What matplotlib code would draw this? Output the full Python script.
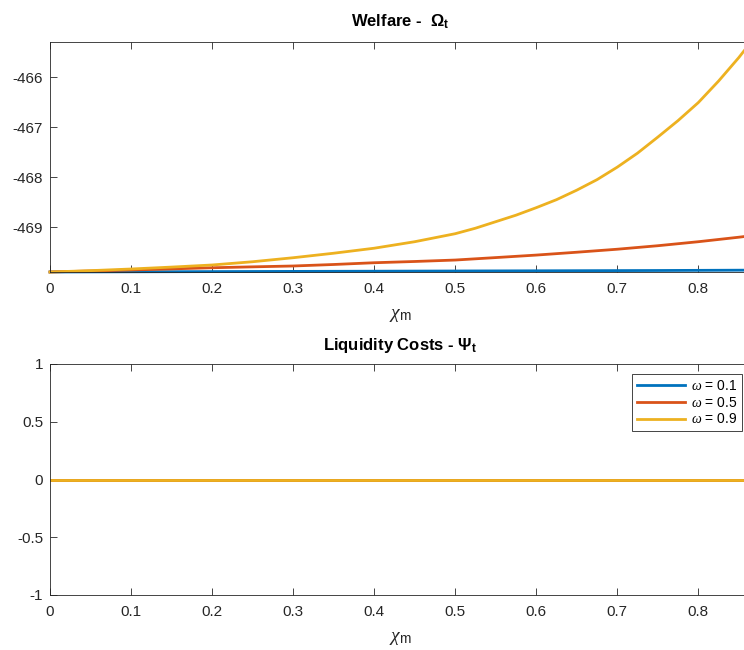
import matplotlib
matplotlib.use('Agg')
import matplotlib.pyplot as plt

plt.rcParams['font.family'] = ['Liberation Sans', 'DejaVu Sans']
plt.rcParams['mathtext.fontset'] = 'custom'
plt.rcParams['mathtext.rm'] = 'Liberation Sans'
plt.rcParams['mathtext.it'] = 'Liberation Serif:italic'
plt.rcParams['mathtext.bf'] = 'Liberation Sans:bold'
plt.rcParams['axes.unicode_minus'] = False

# chi_m grid
chi_m = [0.0, 0.05, 0.1, 0.15, 0.2, 0.25, 0.3, 0.35, 0.4, 0.45,
         0.5, 0.55, 0.6, 0.65, 0.7, 0.75, 0.8, 0.85, 0.865]
# finer reading for the steep omega = 0.9 curve
chi_m_fine = [0.0, 0.05, 0.1, 0.15, 0.2, 0.25, 0.3, 0.35, 0.4, 0.45, 0.475,
              0.5, 0.525, 0.55, 0.575, 0.6, 0.625, 0.65, 0.675, 0.7, 0.725,
              0.75, 0.775, 0.8, 0.825, 0.85, 0.865]

welfare_w01 = [-469.895, -469.893, -469.891, -469.889, -469.887, -469.885, -469.883, -469.881,
               -469.879, -469.877, -469.875, -469.873, -469.871, -469.869, -469.867, -469.865,
               -469.862, -469.859, -469.858]
welfare_w05 = [-469.895, -469.875, -469.855, -469.833, -469.81, -469.792, -469.775, -469.745,
               -469.71, -469.685, -469.656, -469.607, -469.557, -469.50, -469.44, -469.37,
               -469.29, -469.20, -469.17]
welfare_w09 = [-469.895, -469.868, -469.835, -469.797, -469.755, -469.69, -469.61, -469.52,
               -469.42, -469.29, -469.21, -469.13, -469.02, -468.89, -468.76, -468.61,
               -468.45, -468.26, -468.05, -467.80, -467.52, -467.20, -466.87, -466.51,
               -466.08, -465.61, -465.30]

liq_w01 = [0.0] * len(chi_m)
liq_w05 = [0.0] * len(chi_m)
liq_w09 = [0.0] * len(chi_m)

omegas = ['0.1', '0.5', '0.9']
colors = ['#0072BD', '#D95319', '#EDB120']

xticks = [0, 0.1, 0.2, 0.3, 0.4, 0.5, 0.6, 0.7, 0.8]
xtick_labels = ['0', '0.1', '0.2', '0.3', '0.4', '0.5', '0.6', '0.7', '0.8']
top_yticks = [-469, -468, -467, -466]
top_ylabels = ['-469', '-468', '-467', '-466']
bot_yticks = [-1, -0.5, 0, 0.5, 1]
bot_ylabels = ['-1', '-0.5', '0', '0.5', '1']

W, H = 744, 650
fig = plt.figure(figsize=(W / 100, H / 100), dpi=100)
ax1 = fig.add_axes([50 / W, 1 - 272 / H, 701 / W, 230 / H])
ax2 = fig.add_axes([50 / W, 1 - 595 / H, 701 / W, 231 / H])

edge = '#262626'


def style(ax):
    for s in ax.spines.values():
        s.set_color(edge)
        s.set_linewidth(0.6)
    ax.tick_params(direction='in', top=True, right=True, length=5, width=0.6,
                   color=edge, labelcolor=edge, labelsize=11)
    ax.tick_params(axis='x', pad=7)
    ax.tick_params(axis='y', pad=5)
    ax.set_xlim(0, 0.865)
    ax.set_xticks(xticks)
    ax.set_xticklabels(xtick_labels)
    ax.set_xlabel(r'$\chi_\mathrm{m}$', fontsize=14, color=edge, labelpad=8)


x_top = [chi_m, chi_m, chi_m_fine]
for xs, ys, c, om in zip(x_top, [welfare_w01, welfare_w05, welfare_w09], colors, omegas):
    ax1.plot(xs, ys, color=c, lw=2, label=r'$\omega$ = ' + om, clip_on=False)
style(ax1)
ax1.set_ylim(-469.895, -465.30)
ax1.set_yticks(top_yticks)
ax1.set_yticklabels(top_ylabels)
ax1.set_title('Welfare -  $\\mathbf{\u03a9_t}$', fontsize=12, fontweight='bold', pad=11)

for ys, c, om in zip([liq_w01, liq_w05, liq_w09], colors, omegas):
    ax2.plot(chi_m, ys, color=c, lw=2, label=r'$\omega$ = ' + om)
style(ax2)
ax2.set_ylim(-1, 1)
ax2.set_yticks(bot_yticks)
ax2.set_yticklabels(bot_ylabels)
ax2.set_title('Liquidity Costs - $\\mathbf{\u03a8_t}$', fontsize=12, fontweight='bold', pad=10)

leg = ax2.legend(loc='upper right', bbox_to_anchor=(742 / W, 1 - 374 / H),
                 bbox_transform=fig.transFigure, borderaxespad=0, fancybox=False,
                 fontsize=10, handlelength=3.5, handletextpad=0.4, labelspacing=0.2,
                 borderpad=0.35, framealpha=1)
leg.get_frame().set_edgecolor(edge)
leg.get_frame().set_linewidth(0.6)

fig.savefig('out.png', dpi=100)
